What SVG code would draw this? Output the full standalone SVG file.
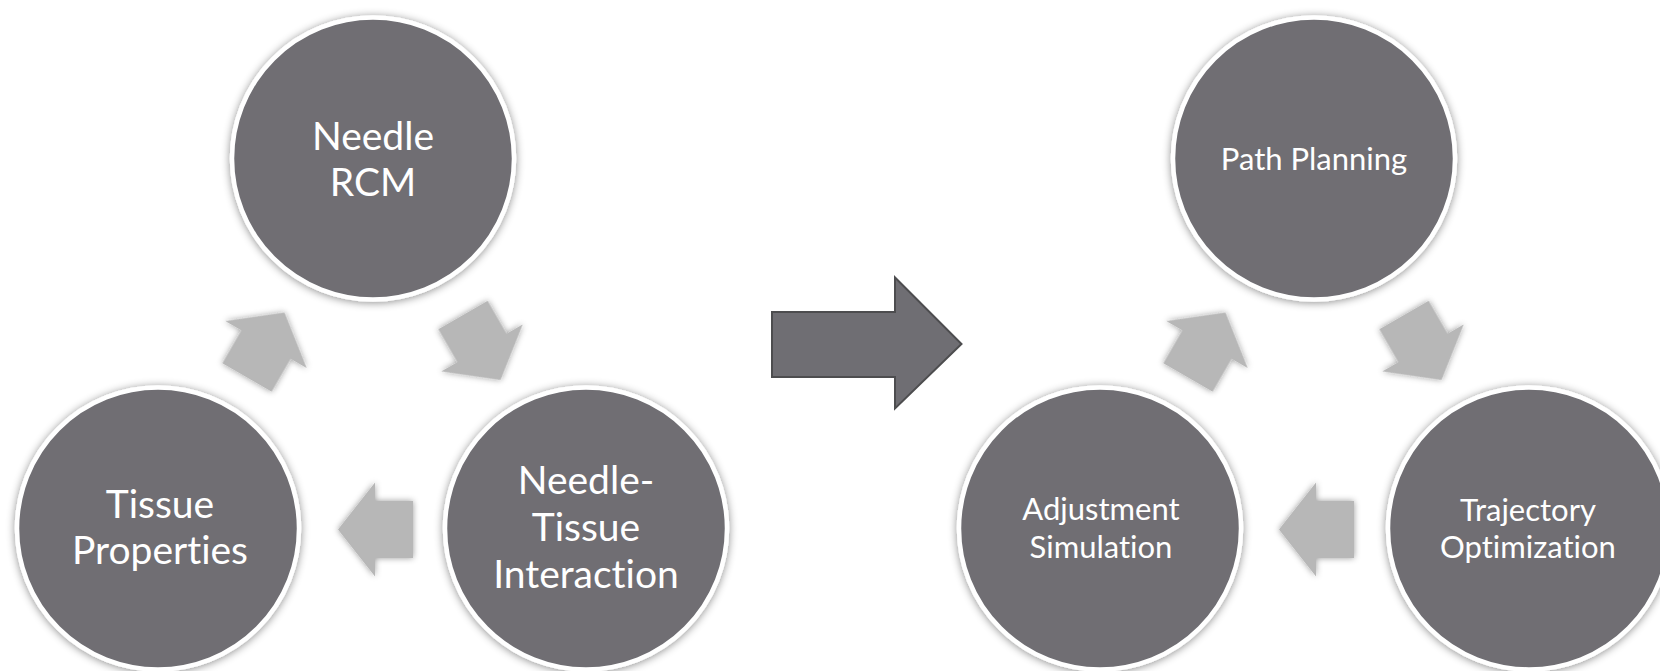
<svg xmlns="http://www.w3.org/2000/svg" width="1660" height="671" viewBox="0 0 1660 671">
<defs>
<filter id="sh" x="-20%" y="-20%" width="140%" height="140%">
<feDropShadow dx="0" dy="1" stdDeviation="4" flood-color="#000" flood-opacity="0.45"/>
</filter>
<filter id="sha" x="-30%" y="-30%" width="160%" height="160%">
<feDropShadow dx="0" dy="0" stdDeviation="3" flood-color="#000" flood-opacity="0.4"/>
</filter>
<polygon id="arr" points="0,-28.5 38,-28.5 38,-47 75,0 38,47 38,28.5 0,28.5"/>
</defs>
<style>
.node{fill:#6f6e73;stroke:#ffffff;stroke-width:4.5;filter:url(#sh)}
.big,.sm{font-family:Lato,"Liberation Sans",sans-serif;fill:#ffffff;text-anchor:middle;font-variant-ligatures:none;font-feature-settings:"liga" 0,"clig" 0}
.big{font-size:39px}
.sm{font-size:31px}
.cyc{fill:#b7b7b7;filter:url(#sha)}
.main{fill:#6f6e73;stroke:#4d4d4f;stroke-width:2}
</style>
<rect width="1660" height="671" fill="#ffffff"/>

<g id="connectors">
<use href="#arr" class="cyc" transform="translate(247,377.5) rotate(-60)"/>
<use href="#arr" class="cyc" transform="translate(463,315) rotate(60)"/>
<use href="#arr" class="cyc" transform="translate(413,529.5) rotate(180)"/>
<use href="#arr" class="cyc" transform="translate(1188,377.5) rotate(-60)"/>
<use href="#arr" class="cyc" transform="translate(1404,315) rotate(60)"/>
<use href="#arr" class="cyc" transform="translate(1354,529.5) rotate(180)"/>
<polygon class="main" points="772,312 895,312 895,277.5 961.5,344 895,408.5 895,377 772,377"/>
</g>

<g id="node-needle-rcm">
<circle class="node" cx="373" cy="158.5" r="141"/>
<text class="big" x="373" y="150">Needle</text>
<text class="big" x="373" y="196">RCM</text>
</g>
<g id="node-tissue-properties">
<circle class="node" cx="158" cy="528.5" r="141"/>
<text class="big" x="160" y="518">Tissue</text>
<text class="big" x="160" y="564">Properties</text>
</g>
<g id="node-needle-tissue-interaction">
<circle class="node" cx="586" cy="528.5" r="141"/>
<text class="big" x="586" y="494">Needle-</text>
<text class="big" x="586" y="541">Tissue</text>
<text class="big" x="586" y="588">Interaction</text>
</g>

<g id="node-path-planning">
<circle class="node" cx="1314" cy="158.5" r="141"/>
<text class="sm" x="1314" y="170">Path Planning</text>
</g>
<g id="node-adjustment-simulation">
<circle class="node" cx="1100" cy="528.5" r="141"/>
<text class="sm" x="1101" y="520">Adjustment</text>
<text class="sm" x="1101" y="558">Simulation</text>
</g>
<g id="node-trajectory-optimization">
<circle class="node" cx="1529" cy="528.5" r="141"/>
<text class="sm" x="1528" y="521">Trajectory</text>
<text class="sm" x="1528" y="558">Optimization</text>
</g>
</svg>
